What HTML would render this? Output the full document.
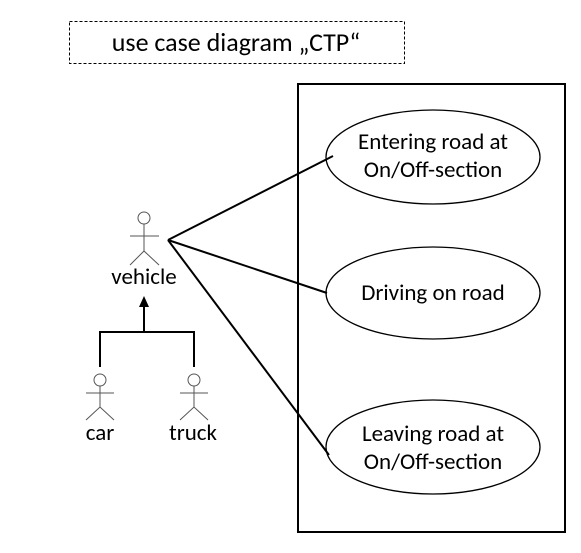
<!DOCTYPE html>
<html><head><style>body{margin:0;background:#fff}</style></head><body>
<svg width="581" height="548" xmlns="http://www.w3.org/2000/svg" font-family="Calibri, Carlito, 'Liberation Sans', sans-serif">
<rect x="69.5" y="21.5" width="335" height="42" fill="none" stroke="#000" stroke-dasharray="3,2"/>
<text x="236" y="51" font-size="26" text-anchor="middle">use case diagram „CTP“</text>
<rect x="298" y="84" width="267" height="448" fill="none" stroke="#000" stroke-width="2"/>
<g fill="#fff" stroke="#000" stroke-width="1.3">
<ellipse cx="433" cy="157" rx="107" ry="47"/>
<ellipse cx="433" cy="293" rx="107" ry="46"/>
<ellipse cx="433" cy="447" rx="107" ry="47"/>
</g>
<g font-size="23" text-anchor="middle">
<text x="433" y="149">Entering road at</text><text x="433" y="177">On/Off-section</text>
<text x="433" y="300">Driving on road</text>
<text x="433" y="441">Leaving road at</text><text x="433" y="469">On/Off-section</text>
</g>
<g stroke="#000" stroke-width="2" fill="none">
<line x1="168" y1="240" x2="333" y2="156"/>
<line x1="168" y1="240" x2="327" y2="293"/>
<line x1="168" y1="240" x2="329" y2="455"/>
<polyline points="100,367 100,332 194,332 194,367"/>
<line x1="144" y1="332" x2="144" y2="305"/>
</g>
<polygon points="144,296 139,307 149,307" fill="#000"/>
<g stroke="#555" stroke-width="1" fill="#fff">
<circle cx="144" cy="218" r="6"/><path d="M144 224V251M130 236H159M130 265L144 251L159 265"/>
<circle cx="100" cy="380" r="6"/><path d="M100 386V407M86 393H114M86 420L100 407L114 420"/>
<circle cx="194" cy="380" r="6"/><path d="M194 386V407M180 393H208M180 420L194 407L208 420"/>
</g>
<g font-size="23" text-anchor="middle">
<text x="144" y="284">vehicle</text>
<text x="100" y="440">car</text>
<text x="193" y="440">truck</text>
</g>
</svg>
</body></html>
